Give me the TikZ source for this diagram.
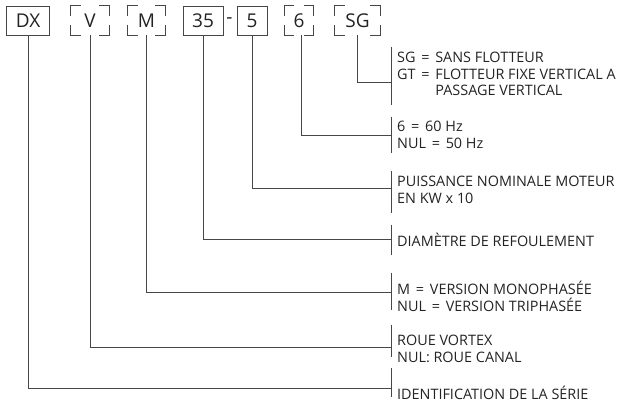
\documentclass[tikz,border=0pt]{standalone}
\usepackage{fontspec}
\setmainfont{Open Sans}
\definecolor{ln}{RGB}{70,70,70}
\definecolor{tx}{RGB}{35,35,35}
\newcommand\eqsep{\hspace{0.4em}=\hspace{0.4em}}
\tikzset{
  codebox/.style={draw=ln, line width=0.9pt, minimum height=29pt, inner sep=0pt, text=tx, font=\fontsize{19}{22}\selectfont},
  codeopt/.style={minimum height=29pt, inner sep=0pt, text=tx, font=\fontsize{19}{22}\selectfont},
  conn/.style={draw=ln, line width=0.9pt},
  lbl/.style={anchor=west, inner sep=0pt, text=tx, align=left, font=\fontsize{14.4}{16.8}\selectfont},
}
\newcommand\brk[1]{%
  \draw[conn] ([yshift=-10pt]#1.north west) -- (#1.north west) -- ([xshift=10pt]#1.north west);
  \draw[conn] ([yshift=-10pt]#1.north east) -- (#1.north east) -- ([xshift=-10pt]#1.north east);
  \draw[conn] ([yshift=10pt]#1.south west) -- (#1.south west) -- ([xshift=10pt]#1.south west);
  \draw[conn] ([yshift=10pt]#1.south east) -- (#1.south east) -- ([xshift=-10pt]#1.south east);
}
\begin{document}
\begin{tikzpicture}[x=1pt,y=-1pt]
\useasboundingbox (0,0) rectangle (627,403);
% code boxes
\node[codebox, minimum width=43pt] (dx) at (28,20.5) {DX};
\node[codeopt, minimum width=38pt] (v) at (90,20.5) {V};
\node[codeopt, minimum width=37pt] (m) at (146.5,20.5) {M};
\node[codebox, minimum width=40pt] (n35) at (203,20.5) {35};
\node[codeopt] (dash) at (229.5,20.5) {-};
\node[codebox, minimum width=30pt] (n5) at (252,20.5) {5};
\node[codeopt, minimum width=29pt] (n6) at (299,20.5) {6};
\node[codeopt, minimum width=45pt] (sg) at (357.5,20.5) {SG};
\brk{v}\brk{m}\brk{n6}\brk{sg}
% labels
\node[lbl] (tsg) at (397,74) {SG\eqsep SANS FLOTTEUR\\GT\eqsep FLOTTEUR FIXE VERTICAL A\\\phantom{GT\eqsep}PASSAGE VERTICAL};
\node[lbl] (t6) at (397,135) {6\eqsep 60 Hz\\NUL\eqsep 50 Hz};
\node[lbl] (t5) at (397,190) {PUISSANCE NOMINALE MOTEUR\\EN KW x 10};
\node[lbl] (t35) at (397,239.5) {DIAMÈTRE DE REFOULEMENT};
\node[lbl] (tm) at (397,296) {M\eqsep VERSION MONOPHASÉE\\NUL\eqsep VERSION TRIPHASÉE};
\node[lbl] (tv) at (397,348.5) {ROUE VORTEX\\NUL: ROUE CANAL};
\node[lbl] (tdx) at (397,392.5) {IDENTIFICATION DE LA SÉRIE};
% bars
\coordinate (sgT) at (391,47);  \coordinate (sgB) at (391,105); \coordinate (sgH) at (391,82);
\coordinate (s6T) at (391,117); \coordinate (s6B) at (391,153); \coordinate (s6H) at (391,135);
\coordinate (s5T) at (391,171); \coordinate (s5B) at (391,213); \coordinate (s5H) at (391,188);
\coordinate (s35T) at (391,225); \coordinate (s35B) at (391,255); \coordinate (s35H) at (391,239);
\coordinate (smT) at (391,273); \coordinate (smB) at (391,310); \coordinate (smH) at (391,292);
\coordinate (svT) at (391,325); \coordinate (svB) at (391,357); \coordinate (svH) at (391,347);
\coordinate (sdxT) at (391,368); \coordinate (sdxB) at (391,397); \coordinate (sdxH) at (391,388);
\foreach \g in {sg,s6,s5,s35,sm,sv,sdx} {\draw[conn] (\g T) -- (\g B);}
% connectors
\draw[conn] (sg.south) |- (sgH);
\draw[conn] ([xshift=2pt]n6.south) |- (s6H);
\draw[conn] (n5.south) |- (s5H);
\draw[conn] (n35.south) |- (s35H);
\draw[conn] (m.south) |- (smH);
\draw[conn] (v.south) |- (svH);
\draw[conn] (dx.south) |- (sdxH);
\end{tikzpicture}
\end{document}
